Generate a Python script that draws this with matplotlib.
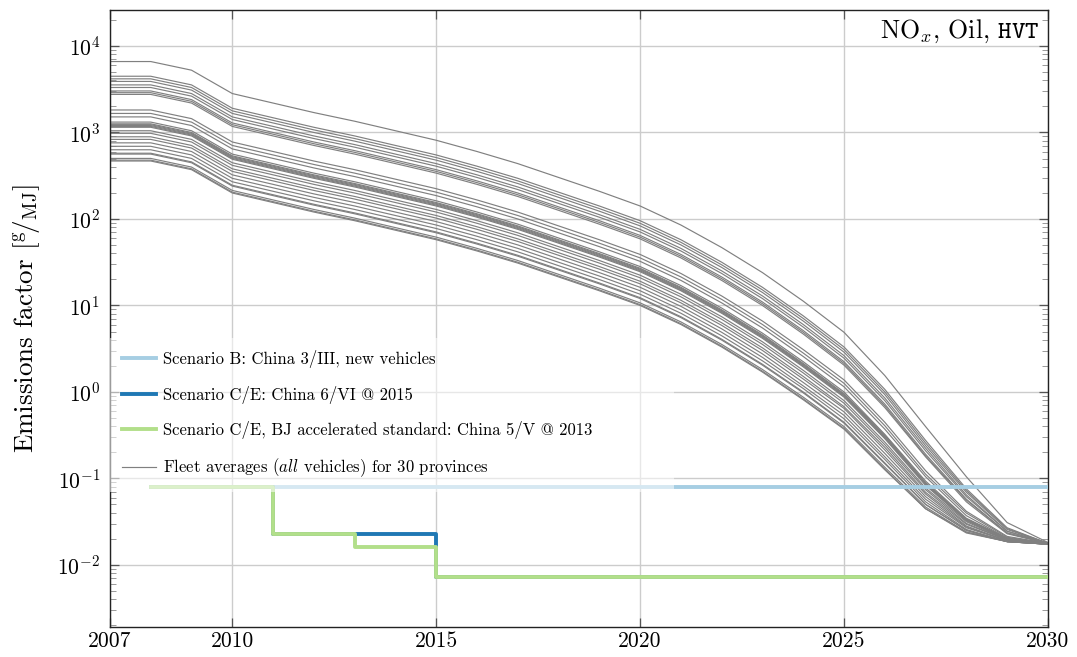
import numpy as np
import matplotlib
matplotlib.use("Agg")
import matplotlib.pyplot as plt
from matplotlib.ticker import LogLocator, NullFormatter, FixedLocator

plt.rcParams['font.family'] = ['cmr10', 'DejaVu Serif']
plt.rcParams['mathtext.fontset'] = 'cm'
plt.rcParams['axes.formatter.use_mathtext'] = True
plt.rcParams['axes.unicode_minus'] = False

# ---- data -------------------------------------------------------------
years = list(range(2007, 2031))

# Fleet-average NOx emission factors (log10 of g/MJ), one row per province
ef_log10 = [
    [3.82, 3.82, 3.72, 3.45, 3.34, 3.23, 3.13, 3.02, 2.91, 2.78, 2.64, 2.48, 2.32, 2.15, 1.93, 1.67, 1.38, 1.05, 0.69, 0.19, -0.40, -0.98, -1.51, -1.74],
    [3.65, 3.65, 3.55, 3.28, 3.17, 3.06, 2.96, 2.85, 2.74, 2.61, 2.47, 2.31, 2.15, 1.98, 1.76, 1.50, 1.21, 0.88, 0.52, 0.03, -0.56, -1.12, -1.57, -1.75],
    [3.62, 3.62, 3.52, 3.25, 3.14, 3.03, 2.93, 2.82, 2.71, 2.58, 2.44, 2.28, 2.12, 1.95, 1.73, 1.47, 1.18, 0.85, 0.49, 0.00, -0.59, -1.14, -1.58, -1.75],
    [3.59, 3.59, 3.49, 3.22, 3.11, 3.00, 2.90, 2.79, 2.68, 2.55, 2.41, 2.25, 2.09, 1.92, 1.70, 1.44, 1.15, 0.82, 0.46, -0.03, -0.62, -1.16, -1.59, -1.75],
    [3.55, 3.55, 3.45, 3.18, 3.07, 2.96, 2.86, 2.75, 2.64, 2.51, 2.37, 2.21, 2.05, 1.88, 1.66, 1.40, 1.11, 0.78, 0.42, -0.07, -0.65, -1.19, -1.61, -1.75],
    [3.52, 3.52, 3.42, 3.15, 3.04, 2.93, 2.83, 2.72, 2.61, 2.48, 2.34, 2.18, 2.02, 1.85, 1.63, 1.37, 1.08, 0.75, 0.39, -0.10, -0.68, -1.21, -1.61, -1.75],
    [3.48, 3.48, 3.38, 3.11, 3.00, 2.89, 2.79, 2.68, 2.57, 2.44, 2.30, 2.14, 1.98, 1.81, 1.59, 1.33, 1.04, 0.71, 0.35, -0.14, -0.72, -1.24, -1.63, -1.75],
    [3.46, 3.46, 3.36, 3.09, 2.98, 2.87, 2.77, 2.66, 2.55, 2.42, 2.28, 2.12, 1.96, 1.79, 1.57, 1.31, 1.02, 0.69, 0.33, -0.16, -0.74, -1.25, -1.63, -1.75],
    [3.44, 3.44, 3.34, 3.07, 2.96, 2.85, 2.75, 2.64, 2.53, 2.40, 2.26, 2.10, 1.94, 1.77, 1.55, 1.29, 1.00, 0.67, 0.31, -0.18, -0.75, -1.27, -1.64, -1.75],
    [3.26, 3.26, 3.16, 2.89, 2.78, 2.67, 2.57, 2.46, 2.35, 2.22, 2.08, 1.92, 1.76, 1.59, 1.37, 1.11, 0.82, 0.49, 0.14, -0.35, -0.91, -1.38, -1.67, -1.75],
    [3.22, 3.22, 3.12, 2.85, 2.74, 2.63, 2.53, 2.42, 2.31, 2.18, 2.04, 1.88, 1.72, 1.55, 1.33, 1.07, 0.78, 0.45, 0.10, -0.39, -0.95, -1.40, -1.68, -1.75],
    [3.18, 3.18, 3.08, 2.81, 2.70, 2.59, 2.49, 2.38, 2.27, 2.14, 2.00, 1.84, 1.68, 1.51, 1.29, 1.03, 0.74, 0.41, 0.06, -0.43, -0.98, -1.43, -1.69, -1.75],
    [3.12, 3.12, 3.02, 2.75, 2.64, 2.53, 2.43, 2.32, 2.21, 2.08, 1.94, 1.78, 1.62, 1.45, 1.23, 0.97, 0.68, 0.35, 0.00, -0.49, -1.03, -1.46, -1.69, -1.75],
    [3.10, 3.10, 3.00, 2.73, 2.62, 2.51, 2.41, 2.30, 2.19, 2.06, 1.92, 1.76, 1.60, 1.43, 1.21, 0.95, 0.66, 0.33, -0.02, -0.50, -1.05, -1.47, -1.70, -1.75],
    [3.09, 3.09, 2.99, 2.72, 2.61, 2.50, 2.40, 2.29, 2.18, 2.05, 1.91, 1.75, 1.59, 1.42, 1.20, 0.94, 0.65, 0.32, -0.03, -0.51, -1.05, -1.47, -1.70, -1.75],
    [3.08, 3.08, 2.98, 2.71, 2.60, 2.49, 2.39, 2.28, 2.17, 2.04, 1.90, 1.74, 1.58, 1.41, 1.19, 0.93, 0.64, 0.31, -0.04, -0.52, -1.06, -1.48, -1.70, -1.75],
    [3.07, 3.07, 2.97, 2.70, 2.59, 2.48, 2.38, 2.27, 2.16, 2.03, 1.89, 1.73, 1.57, 1.40, 1.18, 0.92, 0.63, 0.30, -0.05, -0.53, -1.07, -1.48, -1.70, -1.75],
    [3.06, 3.06, 2.96, 2.69, 2.58, 2.47, 2.37, 2.26, 2.15, 2.02, 1.88, 1.72, 1.56, 1.39, 1.17, 0.91, 0.62, 0.29, -0.06, -0.54, -1.08, -1.49, -1.70, -1.75],
    [3.02, 3.02, 2.92, 2.65, 2.54, 2.43, 2.33, 2.22, 2.11, 1.98, 1.84, 1.68, 1.52, 1.35, 1.13, 0.87, 0.58, 0.25, -0.10, -0.58, -1.11, -1.50, -1.71, -1.75],
    [2.99, 2.99, 2.89, 2.62, 2.51, 2.40, 2.30, 2.19, 2.08, 1.95, 1.81, 1.65, 1.49, 1.32, 1.10, 0.84, 0.55, 0.22, -0.13, -0.61, -1.13, -1.52, -1.71, -1.75],
    [2.95, 2.95, 2.85, 2.58, 2.47, 2.36, 2.26, 2.15, 2.04, 1.91, 1.77, 1.61, 1.45, 1.28, 1.06, 0.80, 0.51, 0.18, -0.17, -0.64, -1.16, -1.53, -1.71, -1.76],
    [2.92, 2.92, 2.82, 2.55, 2.44, 2.33, 2.23, 2.12, 2.01, 1.88, 1.74, 1.58, 1.42, 1.25, 1.03, 0.77, 0.48, 0.15, -0.19, -0.67, -1.18, -1.55, -1.72, -1.76],
    [2.88, 2.88, 2.78, 2.51, 2.40, 2.29, 2.19, 2.08, 1.97, 1.84, 1.70, 1.54, 1.38, 1.21, 0.99, 0.73, 0.44, 0.11, -0.23, -0.71, -1.21, -1.56, -1.72, -1.76],
    [2.84, 2.84, 2.74, 2.47, 2.36, 2.25, 2.15, 2.04, 1.93, 1.80, 1.66, 1.50, 1.34, 1.17, 0.95, 0.69, 0.40, 0.07, -0.27, -0.75, -1.24, -1.57, -1.72, -1.76],
    [2.80, 2.80, 2.70, 2.43, 2.32, 2.21, 2.11, 2.00, 1.89, 1.76, 1.62, 1.46, 1.30, 1.13, 0.91, 0.65, 0.36, 0.04, -0.31, -0.78, -1.27, -1.59, -1.73, -1.76],
    [2.76, 2.76, 2.66, 2.39, 2.28, 2.17, 2.07, 1.96, 1.85, 1.72, 1.58, 1.42, 1.26, 1.09, 0.87, 0.61, 0.32, 0.00, -0.35, -0.82, -1.30, -1.60, -1.73, -1.76],
    [2.75, 2.75, 2.65, 2.38, 2.27, 2.16, 2.06, 1.95, 1.84, 1.71, 1.57, 1.41, 1.25, 1.08, 0.86, 0.60, 0.31, -0.01, -0.36, -0.83, -1.30, -1.60, -1.73, -1.76],
    [2.70, 2.70, 2.60, 2.33, 2.22, 2.11, 2.01, 1.90, 1.79, 1.66, 1.52, 1.36, 1.20, 1.03, 0.81, 0.55, 0.26, -0.06, -0.40, -0.87, -1.33, -1.62, -1.73, -1.76],
    [2.68, 2.68, 2.58, 2.31, 2.20, 2.09, 1.99, 1.88, 1.77, 1.64, 1.50, 1.34, 1.18, 1.01, 0.79, 0.53, 0.24, -0.08, -0.42, -0.89, -1.35, -1.62, -1.73, -1.76],
    [2.67, 2.67, 2.57, 2.30, 2.19, 2.08, 1.98, 1.87, 1.76, 1.63, 1.49, 1.33, 1.17, 1.00, 0.78, 0.52, 0.23, -0.09, -0.43, -0.90, -1.35, -1.63, -1.73, -1.76],
]

# New-vehicle standards per scenario (g/MJ), step changes in the given years
scen_years = [2008, 2011, 2013, 2015, 2030]
scen_b = [0.08, 0.08, 0.08, 0.08, 0.08]
scen_ce = [0.08, 0.0225, 0.0225, 0.0072, 0.0072]
scen_bj = [0.08, 0.0225, 0.016, 0.0072, 0.0072]

labels = [
    'Scenario B: China 3/III, new vehicles',
    'Scenario C/E: China 6/VI @ 2015',
    'Scenario C/E, BJ accelerated standard: China 5/V @ 2013',
    r'Fleet averages ($\mathit{all}$ vehicles) for 30 provinces',
]
x_ticks = [2007, 2010, 2015, 2020, 2025, 2030]
y_ticks = [1e-2, 1e-1, 1e0, 1e1, 1e2, 1e3, 1e4]

# ---- figure -----------------------------------------------------------
fig = plt.figure(figsize=(10.77, 6.57), dpi=100)
ax = fig.add_axes([0.1021, 0.0457, 0.8709, 0.9391])

gray_handle = None
for row in ef_log10:
    ln, = ax.plot(years, 10.0 ** np.array(row), color='#808080', lw=0.85, zorder=2)
    gray_handle = ln

h_b, = ax.plot(scen_years, scen_b, drawstyle='steps-post', color='#a6cee3', lw=2.8, zorder=3)
h_ce, = ax.plot(scen_years, scen_ce, drawstyle='steps-post', color='#1f78b4', lw=2.8, zorder=4)
h_bj, = ax.plot(scen_years, scen_bj, drawstyle='steps-post', color='#b2df8a', lw=2.8, zorder=5)

ax.set_yscale('log')
ax.set_xlim(2007, 2030)
ax.set_ylim(10 ** -2.717, 10 ** 4.416)

ax.xaxis.set_major_locator(FixedLocator(x_ticks))
ax.set_xticklabels([str(y) for y in x_ticks])
ax.yaxis.set_major_locator(FixedLocator(y_ticks))
ax.yaxis.set_minor_locator(LogLocator(base=10, subs=np.arange(2, 10), numticks=100))
ax.yaxis.set_minor_formatter(NullFormatter())

ax.grid(True, which='major', color='#cccccc', lw=1.0, zorder=0)
ax.set_axisbelow(True)

ax.tick_params(which='major', direction='in', top=True, right=True, length=6.5,
               width=0.9, color='#555555', labelsize=15.5)
ax.tick_params(axis='y', which='major', pad=7)
ax.tick_params(axis='x', which='major', pad=3)
ax.tick_params(axis='y', which='minor', direction='in', left=True, right=True,
               length=4, width=0.7, color='#999999')
ax.tick_params(axis='x', which='minor', bottom=False, top=False)
for sp in ax.spines.values():
    sp.set_linewidth(1.0)
    sp.set_color('#222222')

ax.set_ylabel(r'Emissions factor $[{}^{\mathrm{g}}\!/{}_{\mathrm{MJ}}]$', fontsize=19.5, labelpad=11)

ax.text(0.9915, 0.987, r'NO$_x$, Oil, $\mathtt{HVT}$', transform=ax.transAxes,
        ha='right', va='top', fontsize=18.5)

leg = ax.legend([h_b, h_ce, h_bj, gray_handle], labels,
                loc='lower left', bbox_to_anchor=(0.0, 0.219, 0.601, 0.25),
                mode='expand', borderaxespad=0, borderpad=0.75, fontsize=12,
                labelspacing=1.05, handlelength=2.0, handletextpad=0.45,
                frameon=True, fancybox=False)
leg.get_frame().set_facecolor('white')
leg.get_frame().set_edgecolor('none')
leg.get_frame().set_alpha(0.55)
leg.set_zorder(6)

fig.savefig('out.png', dpi=100)
